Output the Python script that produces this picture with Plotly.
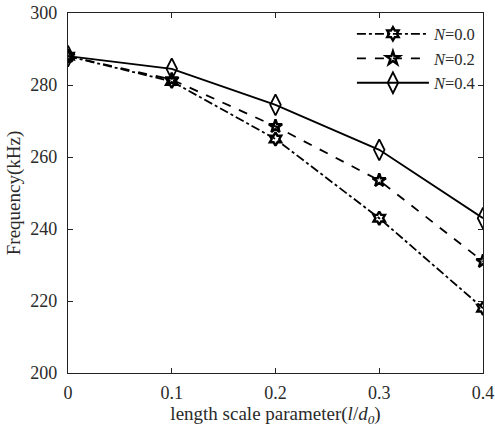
import plotly.graph_objects as go

x_vals = [0, 0.1, 0.2, 0.3, 0.4]
n00 = [288, 281, 265, 243, 218]
n02 = [288, 281.5, 268.5, 253.5, 231]
n04 = [288, 284.5, 274.5, 262, 243]
names = ["<i>N</i>=0.0", "<i>N</i>=0.2", "<i>N</i>=0.4"]
x_ticks = [0, 0.1, 0.2, 0.3, 0.4]
x_tick_text = ["0", "0.1", "0.2", "0.3", "0.4"]
y_ticks = [200, 220, 240, 260, 280, 300]

fig = go.Figure()
fig.add_trace(go.Scatter(x=x_vals, y=n00, name=names[0], mode="lines+markers",
                         line=dict(color="black", width=1.8, dash="dashdot"),
                         marker=dict(symbol="hexagram-open", size=10, color="black",
                                     line=dict(width=2.4, color="black"))))
fig.add_trace(go.Scatter(x=x_vals, y=n02, name=names[1], mode="lines+markers",
                         line=dict(color="black", width=1.8, dash="dash"),
                         marker=dict(symbol="star-open", size=10, color="black",
                                     line=dict(width=2.4, color="black"))))
fig.add_trace(go.Scatter(x=x_vals, y=n04, name=names[2], mode="lines+markers",
                         line=dict(color="black", width=1.8),
                         marker=dict(symbol="diamond-tall-open", size=15, color="black",
                                     line=dict(width=1.8, color="black"))))

font = dict(family="Liberation Serif, Times New Roman, serif", size=18, color="#2a2a2a")
fig.update_layout(
    width=495, height=430,
    margin=dict(l=68, r=12, t=13, b=57),
    paper_bgcolor="white", plot_bgcolor="white",
    font=font,
    legend=dict(x=0.995, y=0.99, xanchor="right", yanchor="top",
                bgcolor="rgba(255,255,255,0)", font=dict(size=16.5),
                tracegroupgap=0, itemwidth=72),
)
fig.update_xaxes(range=[0, 0.4], tickvals=x_ticks, ticktext=x_tick_text,
                 showgrid=False, zeroline=False, showline=True, linecolor="#222",
                 linewidth=1.2, mirror="ticks", ticks="inside", ticklen=5,
                 tickcolor="#222", automargin=False, ticklabelstandoff=3,
                 title=dict(text="length scale parameter(<i>l</i>/<i>d</i><sub><i>0</i></sub>)",
                            standoff=2, font=dict(size=19)))
fig.update_yaxes(range=[200, 300], tickvals=y_ticks,
                 showgrid=False, zeroline=False, showline=True, linecolor="#222",
                 linewidth=1.2, mirror="ticks", ticks="inside", ticklen=5,
                 tickcolor="#222", automargin=False, ticklabelstandoff=6,
                 title=dict(text="Frequency(kHz)", standoff=4, font=dict(size=19)))

fig.write_html("out.html")
